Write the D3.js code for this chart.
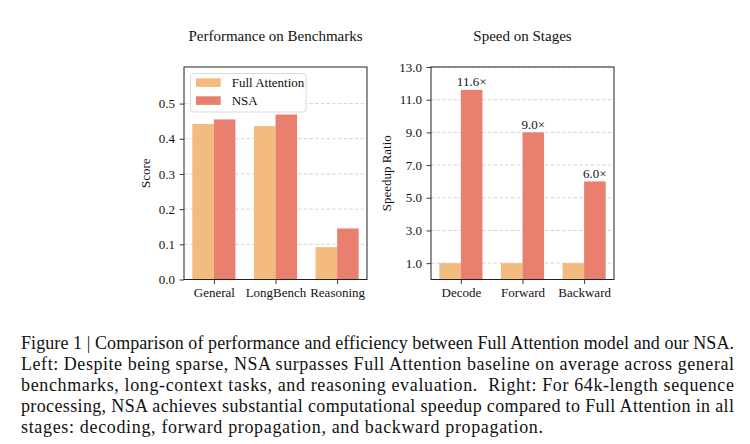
<!DOCTYPE html>
<html><head><meta charset="utf-8">
<script src="https://cdn.jsdelivr.net/npm/d3@7"></script>
<style>
body{margin:0;background:#fff}
svg{display:block}
text{font-family:"Liberation Serif","Times New Roman",serif}
</style>
</head><body>
<svg id="c" width="750" height="444"></svg>
<script>
// ---- data ----
const seriesNames = ["Full Attention", "NSA"];
const benchCategories = ["General", "LongBench", "Reasoning"];
const benchFull = [0.442, 0.436, 0.092];
const benchNSA = [0.455, 0.469, 0.145];
const benchTicks = [0.0, 0.1, 0.2, 0.3, 0.4, 0.5];
const stageCategories = ["Decode", "Forward", "Backward"];
const stageFull = [1.0, 1.0, 1.0];
const stageNSA = [11.6, 9.0, 6.0];
const stageTicks = [1, 3, 5, 7, 9, 11, 13];
const captionLines = [
  "Figure 1 | Comparison of performance and efficiency between Full Attention model and our NSA.",
  "Left: Despite being sparse, NSA surpasses Full Attention baseline on average across general",
  "benchmarks, long-context tasks, and reasoning evaluation.  Right: For 64k-length sequence",
  "processing, NSA achieves substantial computational speedup compared to Full Attention in all",
  "stages: decoding, forward propagation, and backward propagation."
];

// ---- style ----
const colors = ["#F4BB7E", "#E9806F"];
const FS = 13;
const svg = d3.select("#c");

function panel(o) {
  const g = svg.append("g");
  const x = d3.scaleLinear().domain([-0.485, 2.485]).range([o.x0, o.x1]);
  const y = d3.scaleLinear().domain(o.ydom).range([o.y1, o.y0]);
  const bw = 0.35;

  // grid
  g.append("g").selectAll("line").data(o.ticks.filter(t => t > o.ydom[0])).join("line")
    .attr("x1", o.x0).attr("x2", o.x1)
    .attr("y1", d => y(d)).attr("y2", d => y(d))
    .attr("stroke", "#c9c9c9").attr("stroke-width", 0.8)
    .attr("stroke-dasharray", "3.5,2.2");

  // bars
  const series = [o.full, o.nsa];
  series.forEach((vals, si) => {
    g.append("g").selectAll("rect").data(vals).join("rect")
      .attr("x", (d, i) => x(i + (si === 0 ? -bw : 0)))
      .attr("width", x(bw) - x(0))
      .attr("y", d => y(d))
      .attr("height", d => y(o.ydom[0]) - y(d))
      .attr("fill", colors[si]);
  });

  // value labels
  if (o.labels) {
    g.append("g").selectAll("text").data(o.nsa).join("text")
      .attr("x", (d, i) => x(i + bw / 2))
      .attr("y", d => y(d) - 3.5)
      .attr("text-anchor", "middle")
      .attr("font-size", FS).attr("fill", "#111")
      .text(d => d.toFixed(1) + "\u00d7");
  }

  // axes
  const ya = g.append("g").attr("transform", `translate(${o.x0},0)`)
    .call(d3.axisLeft(y).tickValues(o.ticks).tickFormat(d3.format(".1f")).tickSize(4.4).tickPadding(4.5))
  const xa = g.append("g").attr("transform", `translate(0,${o.y1})`)
    .call(d3.axisBottom(x).tickValues([0, 1, 2]).tickFormat(i => o.cats[i]).tickSize(4.4).tickPadding(4.2));
  [ya, xa].forEach(a => {
    a.select(".domain").remove();
    a.selectAll("line").attr("stroke", "#222").attr("stroke-width", 0.9);
    a.selectAll("text").attr("font-family", '"Liberation Serif","Times New Roman",serif')
      .attr("font-size", FS).attr("fill", "#111");
  });

  // frame
  g.append("rect").attr("x", o.x0).attr("y", o.y0)
    .attr("width", o.x1 - o.x0).attr("height", o.y1 - o.y0)
    .attr("fill", "none").attr("stroke", "#222").attr("stroke-width", 1);

  // title
  g.append("text").attr("x", (o.x0 + o.x1) / 2).attr("y", 40.7)
    .attr("text-anchor", "middle").attr("font-size", 15).attr("fill", "#111").text(o.title);
  // y label
  g.append("text").attr("transform", `translate(${o.ylx},${(o.y0 + o.y1) / 2}) rotate(-90)`)
    .attr("text-anchor", "middle").attr("font-size", FS).attr("fill", "#111").text(o.ylabel);
  return {g, x, y};
}

const left = panel({x0: 184, x1: 367, y0: 67, y1: 279.5, ydom: [0, 0.604], ticks: benchTicks,
  cats: benchCategories, full: benchFull, nsa: benchNSA, title: "Performance on Benchmarks",
  ylabel: "Score", ylx: 149.5, labels: false});
panel({x0: 431, x1: 614, y0: 67, y1: 279.5, ydom: [0, 13], ticks: stageTicks,
  cats: stageCategories, full: stageFull, nsa: stageNSA, title: "Speed on Stages",
  ylabel: "Speedup Ratio", ylx: 390.5, labels: true});

// legend
const lg = left.g.append("g");
lg.append("rect").attr("x", 190.5).attr("y", 73.5).attr("width", 115.5).attr("height", 38.5)
  .attr("rx", 3).attr("fill", "#fff").attr("fill-opacity", 0.85).attr("stroke", "#d6d6d6").attr("stroke-width", 0.9);
seriesNames.forEach((n, i) => {
  lg.append("rect").attr("x", 196).attr("y", 78.3 + i * 18).attr("width", 24.7).attr("height", 8.6).attr("fill", colors[i]);
  lg.append("text").attr("x", 231.7).attr("y", 87 + i * 18.2).attr("font-size", FS).attr("fill", "#111").text(n);
});

// caption
const capX = 21, capW = 713, capY0 = 349, capDy = 21;
svg.append("g").selectAll("text").data(captionLines).join("text")
  .attr("x", capX).attr("y", (d, i) => capY0 + i * capDy)
  .attr("font-size", 18).attr("fill", "#111")
  .attr("xml:space", "preserve")
  .attr("textLength", (d, i) => i < captionLines.length - 1 ? capW : 522)
  .attr("lengthAdjust", "spacing")
  .text(d => d);
</script>
</body></html>
